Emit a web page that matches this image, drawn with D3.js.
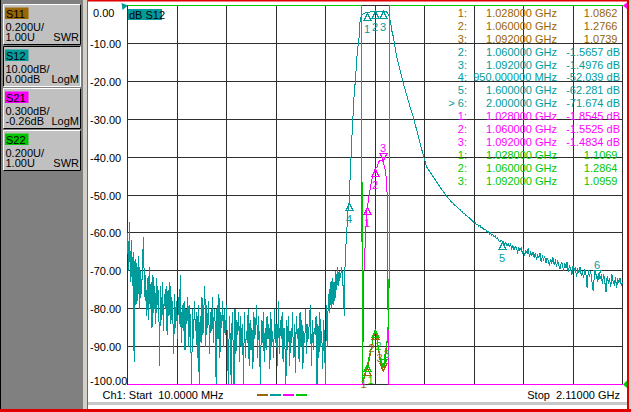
<!DOCTYPE html>
<html>
<head>
<meta charset="utf-8">
<script src="https://cdn.jsdelivr.net/npm/d3@7"></script>
<style>
  body { margin: 0; background: #808080; overflow: hidden; }
  svg { display: block; font-family: "Liberation Sans", Arial, sans-serif; font-size: 11px; }
  text { white-space: pre; }
  .trace, .grid line, .mark { shape-rendering: crispEdges; }
</style>
</head>
<body>
<svg id="vna" width="631" height="412"></svg>
<script>
// ---- sweep / axes -----------------------------------------------------------
const startMHz = 10, stopMHz = 2110;
const gridMHz = [10, 220, 430, 640, 850, 1060, 1270, 1480, 1690, 1900, 2110];
const s12GridDb = [-10, -20, -30, -40, -50, -60, -70, -80, -90];
const s12TickDb = [0, -10, -20, -30, -40, -50, -60, -70, -80, -90, -100];
const s12TickLabels = ["0.00", "-10.00", "-20.00", "-30.00", "-40.00", "-50.00",
  "-60.00", "-70.00", "-80.00", "-90.00", "-100.00"];

// ---- S12 trace (dB) ---------------------------------------------------------
// noisy low band, one reading every 4 MHz from 10 MHz
const s12NoiseStart = 10, s12NoiseStep = 4;
const s12NoiseDb = [
  -60,-70,-57,-73,-62,-74,-65,-94,-67,-79,
  -68,-78,-66,-80,-70,-76,-67,-61,-77,-71,
  -82,-72,-83,-69,-80,-73,-85,-71,-81,-74,
  -84,-72,-79,-75,-95,-74,-83,-73,-86,-76,
  -80,-74,-87,-75,-82,-73,-84,-77,-81,-92,
  -76,-85,-78,-88,-77,-84,-71,-89,-79,-86,
  -78,-91,-80,-84,-77,-90,-79,-87,-100,-80,
  -88,-78,-86,-81,-93,-79,-100,-82,-89,-77,
  -87,-80,-74,-90,-79,-85,-78,-92,-81,-86,
  -77,-89,-80,-84,-100,-79,-88,-76,-93,-81,
  -85,-78,-90,-80,-87,-79,-91,-100,-82,-88,
  -100,-81,-89,-100,-80,-92,-83,-87,-81,-94,
  -82,-90,-84,-100,-81,-93,-86,-89,-80,-95,
  -83,-91,-85,-96,-81,-88,-84,-79,-93,-82,
  -90,-100,-83,-89,-81,-94,-85,-91,-82,-88,
  -84,-96,-81,-90,-86,-93,-80,-89,-84,-95,
  -78,-92,-83,-88,-81,-94,-85,-90,-100,-83,
  -91,-82,-95,-86,-89,-81,-93,-84,-97,-82,
  -88,-85,-94,-81,-90,-83,-96,-86,-89,-80,
  -92,-84,-88,-82,-79,-95,-83,-91,-85,-87,
  -82,-100,-84,-93,-81,-90,-86,-96,-83,-89,
  -100,-79,-90,-76,-81,-73,-80,-72,-79,-73,
  -78,-70,-75,-69,-74,-70,-72,-69
];
// skirts and passband
const s12SkirtMHz = [922, 926, 930, 933, 936, 940, 944, 947, 950, 951,
  954, 957, 961, 964, 968, 972, 978, 982, 989, 993,
  996, 1000, 1005, 1012, 1020, 1028, 1040, 1050, 1060, 1070,
  1080, 1092, 1100, 1108, 1114, 1120, 1126.6, 1130.8, 1137.6, 1144.8,
  1152, 1166, 1180, 1194.5, 1208.5, 1222.5, 1236.9, 1251, 1265, 1279,
  1307, 1336, 1371];
const s12SkirtDb = [-71, -76, -81.8, -68, -64, -60, -55, -53.5, -52.04, -51.4,
  -46.1, -41.6, -36.3, -32.1, -27.6, -23.1, -18.9, -14.4, -9.9, -8.3,
  -4.6, -3.2, -2.4, -2.1, -1.95, -1.87, -1.72, -1.62, -1.5657, -1.54,
  -1.51, -1.4976, -1.55, -1.7, -2.0, -2.8, -4.7, -6.5, -8.2, -10.9,
  -13.5, -17.0, -20.6, -23.6, -26.7, -29.4, -32.9, -36.4, -39.5, -42.6,
  -45.2, -47.9, -50.9];
// upper tail, one reading every 5 MHz from 1380 MHz
const s12TailStart = 1380, s12TailStep = 5;
const s12TailDb = [
  -51.5,-51.9,-52.1,-52.5,-52.8,-53.0,-53.3,-53.6,-53.8,-54.2,
  -54.4,-54.8,-54.9,-55.3,-55.5,-55.9,-56.0,-56.4,-56.6,-57.0,
  -57.3,-57.2,-57.8,-57.7,-58.2,-58.0,-58.6,-58.5,-59.0,-59.1,
  -59.2,-59.8,-59.6,-60.3,-60.0,-60.7,-60.4,-61.1,-60.8,-61.5,
  -61.3,-62.0,-62.3,-62.0,-62.28,-62.3,-63.0,-62.5,-63.3,-62.9,
  -63.6,-63.0,-64.1,-63.4,-64.5,-63.6,-64.0,-65.1,-63.9,-64.6,
  -64.0,-65.3,-64.6,-66.0,-64.8,-65.4,-63.9,-66.2,-65.2,-65.9,
  -65.0,-66.6,-65.3,-67.2,-66.0,-66.5,-65.4,-67.6,-66.2,-67.0,
  -66.1,-68.0,-66.6,-67.4,-68.6,-66.9,-67.9,-66.5,-68.3,-67.4,
  -68.9,-67.2,-68.5,-69.6,-67.9,-68.2,-70.1,-68.0,-69.3,-67.6,
  -70.4,-68.6,-69.5,-71.2,-68.7,-70.0,-69.1,-71.7,-69.4,-70.6,
  -68.9,-71.4,-70.2,-72.0,-69.5,-70.9,-74.6,-69.8,-71.5,-70.1,
  -72.6,-75.2,-71.8,-69.9,-71.674,-73.0,-70.6,-72.2,-71.0,-73.5,
  -70.8,-72.9,-75.6,-71.3,-73.4,-71.9,-74.2,-70.9,-72.8,-73.6,
  -71.7,-74.5,-72.4,-73.1,-71.8,-74.0,-72.9
];

// ---- S21 (dB), S11 / S22 (SWR) ----------------------------------------------
const s21MHz = [10, 480, 870, 950, 1000, 1007, 1009, 1012, 1025, 1028, 1032, 1046, 1060,
  1068, 1079, 1092, 1098, 1104, 1110, 1113, 1115, 1117, 1130, 1250, 1600, 2110];
const s21Db = [-66, -87, -80, -52, -4.6, -3.3, -2.96, -2.41, -1.88, -1.8545, -1.80, -1.64, -1.5525,
  -1.54, -1.4845, -1.4834, -1.52, -1.57, -1.66, -1.9, -2.6, -3.4, -6.5, -36, -62, -72.5];

const s11MHz = [10, 600, 1003, 1006, 1010, 1016, 1022, 1028, 1034, 1040,
  1046, 1052, 1056, 1060, 1064, 1068, 1074, 1080, 1086, 1092,
  1097, 1102, 1108, 1112, 1115, 1119, 1121.5, 1123, 1600, 2110];
const s11Swr = [40, 35, 15, 1.03, 1.02, 1.04, 1.07, 1.0862, 1.12, 1.16,
  1.20, 1.24, 1.265, 1.2766, 1.27, 1.24, 1.19, 1.14, 1.10, 1.0739,
  1.07, 1.12, 1.18, 1.23, 1.30, 1.4, 2.0, 15, 40, 45];

const s22MHz = [10, 600, 1003.5, 1006.5, 1012, 1018, 1024, 1028, 1034, 1040,
  1046, 1052, 1056, 1060, 1064, 1068, 1074, 1080, 1086, 1092,
  1097, 1102, 1108, 1112, 1116, 1120, 1123, 1600, 2110];
const s22Swr = [50, 40, 12, 1.01, 1.03, 1.06, 1.09, 1.1069, 1.14, 1.17,
  1.20, 1.25, 1.275, 1.2864, 1.28, 1.25, 1.20, 1.15, 1.11, 1.0959,
  1.10, 1.16, 1.20, 1.24, 1.30, 1.6, 14, 45, 50];

// ---- markers ----------------------------------------------------------------
const markMHz = [1028, 1060, 1092];
const s12MarkMHz = [1028, 1060, 1092, 950, 1600, 2000];
const s12MarkDb = [-1.87, -1.5657, -1.4976, -52.039, -62.281, -71.674];
const s21MarkDb = [-1.8545, -1.5525, -1.4834];
const s11MarkSwr = [1.0862, 1.2766, 1.0739];
const s22MarkSwr = [1.1069, 1.2864, 1.0959];

// marker readout table
const listTrace = [0, 0, 0, 1, 1, 1, 1, 1, 2, 2, 2, 3, 3, 3];
const listNo = ["1:", "2:", "3:", "2:", "3:", "4:", "5:", "> 6:", "1:", "2:", "3:", "1:", "2:", "3:"];
const listFreq = ["1.028000 GHz", "1.060000 GHz", "1.092000 GHz",
  "1.060000 GHz", "1.092000 GHz", "950.000000 MHz", "1.600000 GHz", "2.000000 GHz",
  "1.028000 GHz", "1.060000 GHz", "1.092000 GHz",
  "1.028000 GHz", "1.060000 GHz", "1.092000 GHz"];
const listValue = ["1.0862", "1.2766", "1.0739",
  "-1.5657 dB", "-1.4976 dB", "-52.039 dB", "-62.281 dB", "-71.674 dB",
  "-1.8545 dB", "-1.5525 dB", "-1.4834 dB",
  "1.1069", "1.2864", "1.0959"];

// ---- soft key panel ---------------------------------------------------------
const keyNames = ["S11", "S12", "S21", "S22"];
const keyScale = ["0.200U/", "10.00dB/", "0.300dB/", "0.200U/"];
const keyRef = ["1.00U", "0.00dB", "-0.26dB", "1.00U"];
const keyFormat = ["SWR", "LogM", "LogM", "SWR"];

const traceColor = ["#996600", "#009c9c", "#ff00ff", "#00c800"];

//-----------------------------------------------------------------------------

const svg = d3.select("#vna");

// window background and frames
svg.append("rect").attr("width", 631).attr("height", 412).attr("fill", "#808080");
svg.append("rect").attr("x", 88).attr("y", 1).attr("width", 539).attr("height", 408).attr("fill", "#ffffff");
svg.append("rect").attr("x", 83).attr("y", 0).attr("width", 4).attr("height", 409).attr("fill", "#d4d0c8");
svg.append("rect").attr("x", 87).attr("y", 0).attr("width", 1).attr("height", 409).attr("fill", "#6a6a6a");
svg.append("rect").attr("x", 0).attr("y", 0).attr("width", 1).attr("height", 409).attr("fill", "#000000");
svg.append("rect").attr("x", 88).attr("y", 402).attr("width", 539).attr("height", 3).attr("fill", "#c8c8c8");
svg.append("rect").attr("x", 88).attr("y", 0).attr("width", 543).attr("height", 1.5).attr("fill", "#e00000"); // active channel frame
svg.append("rect").attr("x", 627).attr("y", 0).attr("width", 2).attr("height", 412).attr("fill", "#e00000");
svg.append("rect").attr("x", 629).attr("y", 0).attr("width", 2).attr("height", 412).attr("fill", "#d4d0c8");
svg.append("rect").attr("x", 0).attr("y", 409).attr("width", 631).attr("height", 3).attr("fill", "#e00000");

// soft keys on the left
keyNames.forEach((name, i) => {
  const top = 4 + i * 42;
  const pressed = i === 1;
  const k = svg.append("g").attr("transform", `translate(3,${top})`);
  k.append("rect").attr("width", 78).attr("height", 41).attr("fill", "#c0c0c0");
  const lt = pressed ? "#000000" : "#ffffff", rb = pressed ? "#ffffff" : "#000000";
  k.append("path").attr("d", "M0.5,40.5V0.5H77.5").attr("fill", "none").attr("stroke", lt);
  k.append("path").attr("d", "M0.5,40.5H77.5V0.5").attr("fill", "none").attr("stroke", rb);
  k.append("rect").attr("x", 2).attr("y", 3.5).attr("width", 23.5).attr("height", 11.5).attr("fill", traceColor[i]);
  k.append("text").attr("x", 3).attr("y", 13.5).attr("fill", "#000").text(name);
  k.append("text").attr("x", 2.5).attr("y", 26.5).attr("fill", "#000").text(keyScale[i]);
  k.append("text").attr("x", 2.5).attr("y", 37).attr("fill", "#000").text(keyRef[i]);
  k.append("text").attr("x", 76).attr("y", 37).attr("text-anchor", "end").attr("fill", "#000").text(keyFormat[i]);
});

// ---- scales ------------------------------------------------------------------
const plotL = 127.5, plotR = 622.5, plotT = 5.5, plotB = 384.5;

const x = d3.scaleLinear().domain([startMHz, stopMHz]).range([plotL, plotR]);
const yS12 = d3.scaleLinear().domain([0, -100]).range([plotT, plotB]).clamp(true);   // 10 dB/div, ref top
const yS21 = d3.scaleLinear().domain([-0.26, -3.26]).range([plotT, plotB]).clamp(true); // 0.3 dB/div, ref top
const ySwr = d3.scaleLinear().domain([1.0, 3.0]).range([plotB, plotT]).clamp(true);    // 0.2 U/div, ref bottom

// grid
const gx = svg.append("g").attr("class", "grid")
  .attr("transform", `translate(0,${plotB})`)
  .call(d3.axisBottom(x).tickValues(gridMHz).tickSize(-(plotB - plotT)).tickFormat("").offset(0));
gx.select(".domain").remove();
gx.selectAll("line").attr("stroke", "#2e2e2e");

const gy = svg.append("g").attr("class", "grid")
  .attr("transform", `translate(${plotL},0)`)
  .call(d3.axisLeft(yS12).tickValues(s12GridDb).tickSize(-(plotR - plotL)).tickFormat("").offset(0));
gy.select(".domain").remove();
gy.selectAll("line").attr("stroke", "#2e2e2e");

svg.append("rect").attr("class", "trace")
  .attr("x", plotL).attr("y", plotT).attr("width", plotR - plotL).attr("height", plotB - plotT)
  .attr("fill", "none").attr("stroke", "#2e2e2e");

// y tick labels (S12 is the active trace)
s12TickDb.forEach((v, i) => {
  const gyPos = yS12(v);
  svg.append("text")
    .attr("x", s12TickLabels[i].startsWith("-") ? 90 : 93)
    .attr("y", Math.max(17, Math.min(385, gyPos + 4.5)))
    .attr("fill", "#000")
    .text(s12TickLabels[i]);
});

// ---- traces --------------------------------------------------------------------
const s12Points = [];
s12NoiseDb.forEach((v, i) => s12Points.push([s12NoiseStart + i * s12NoiseStep, v]));
s12SkirtMHz.forEach((f, i) => s12Points.push([f, s12SkirtDb[i]]));
s12TailDb.forEach((v, j) => s12Points.push([s12TailStart + j * s12TailStep, v]));

function drawTrace(mhz, vals, yScale, color) {
  const line = d3.line().x(d => x(d[0])).y(d => yScale(d[1]));
  svg.append("path").attr("class", "trace")
    .datum(mhz.map((f, i) => [f, vals[i]]))
    .attr("d", line)
    .attr("fill", "none")
    .attr("stroke", color)
    .attr("stroke-width", 1);
}

drawTrace(s11MHz, s11Swr, ySwr, traceColor[0]);
drawTrace(s12Points.map(d => d[0]), s12Points.map(d => d[1]), yS12, traceColor[1]);
drawTrace(s21MHz, s21Db, yS21, traceColor[2]);
drawTrace(s22MHz, s22Swr, ySwr, traceColor[3]);

// ---- markers ---------------------------------------------------------------------
function drawMarkers(mhz, vals, yScale, color, active, labelShift) {
  mhz.forEach((f, i) => {
    const px = Math.round(x(f)) + 0.5, py = Math.round(yScale(vals[i])) + 0.5;
    const up = i === active;
    const h = up ? -7 : 7;
    svg.append("path").attr("class", "mark")
      .attr("d", `M${px},${py}L${px - 3.5},${py + h}L${px + 3.5},${py + h}Z`)
      .attr("fill", "none").attr("stroke", color);
    svg.append("text")
      .attr("x", px - 0.5 + labelShift).attr("y", up ? py - 8.5 : py + 19.5)
      .attr("text-anchor", "middle").attr("fill", color)
      .text(i + 1);
  });
}

// S11 and S22 sit almost on top of each other, nudge their numbers apart
drawMarkers(markMHz, s11MarkSwr, ySwr, traceColor[0], 2, -3.5);
drawMarkers(markMHz, s22MarkSwr, ySwr, traceColor[3], 2, 3.5);
drawMarkers(markMHz, s21MarkDb, yS21, traceColor[2], 2, 0);
drawMarkers(s12MarkMHz, s12MarkDb, yS12, traceColor[1], 5, 0);

// reference position arrows
svg.append("path").attr("d", "M121.5,3L128,5.5L122.5,10Z").attr("fill", traceColor[1]);
svg.append("path").attr("d", `M${plotR + 0.5},${plotT}L627,2.5L627,9Z`).attr("fill", traceColor[2]);
svg.append("path").attr("d", `M${plotR + 0.5},${plotB}L627,380.5L627,388Z`).attr("fill", traceColor[3]);

// active trace title
svg.append("rect").attr("x", 128).attr("y", 9).attr("width", 34).attr("height", 11).attr("fill", traceColor[1]);
svg.append("text").attr("x", 129).attr("y", 18.5).attr("fill", "#000").text("dB S12");

// marker readout
listNo.forEach((no, k) => {
  const base = 16.7 + 12.95 * k;
  const c = traceColor[listTrace[k]];
  const isDb = listValue[k].endsWith("dB");
  svg.append("text").attr("x", 467).attr("y", base).attr("text-anchor", "end").attr("fill", c).text(no);
  svg.append("text").attr("x", 557).attr("y", base).attr("text-anchor", "end").attr("fill", c).text(listFreq[k]);
  svg.append("text").attr("x", isDb ? 620 : 617.5).attr("y", base).attr("text-anchor", "end").attr("fill", c).text(listValue[k]);
});

// status line
svg.append("text").attr("x", 102.5).attr("y", 399).attr("fill", "#000").text("Ch1: Start  10.0000 MHz");
svg.append("text").attr("x", 620).attr("y", 399).attr("text-anchor", "end").attr("fill", "#000").text("Stop  2.11000 GHz");
traceColor.forEach((c, i) => {
  svg.append("rect").attr("x", 257 + i * 13).attr("y", 394).attr("width", 11).attr("height", 2).attr("fill", c);
});
</script>
</body>
</html>
